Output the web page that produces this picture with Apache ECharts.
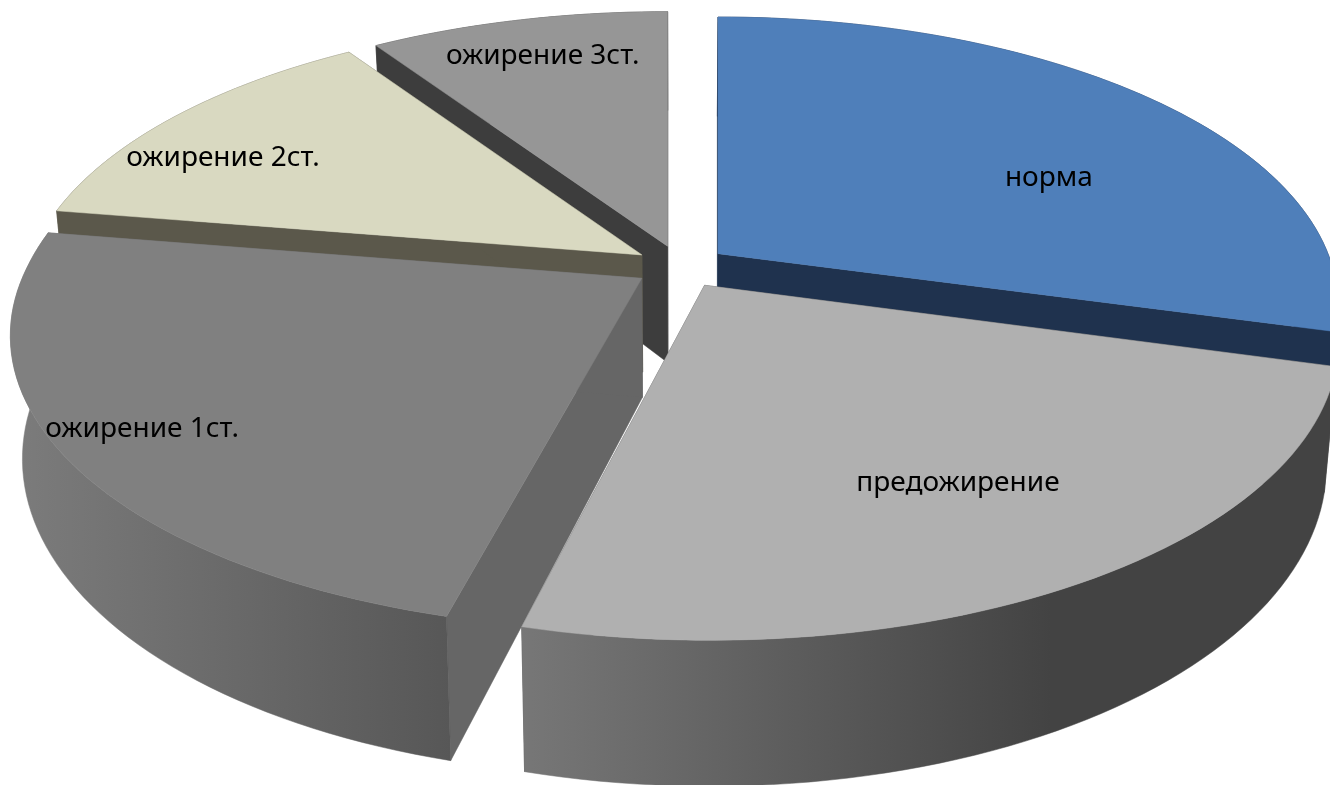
<!DOCTYPE html>
<html><head><meta charset="utf-8">
<style>html,body{margin:0;padding:0;background:#fff}#c{width:1330px;height:785px}</style>
<script src="https://cdn.jsdelivr.net/npm/echarts@6/dist/echarts.min.js"></script>
</head><body><div id="c"></div>
<script>
const categories = ['норма','предожирение','ожирение 1ст.','ожирение 2ст.','ожирение 3ст.'];
const values = [29.3, 24.7, 23.6, 13.1, 9.3];
const topColors = ['#4f7fba','#b0b0b0','#808080','#d9d9c1','#969696'];
const cutColors = ['#1f324e','#4a4a4a','#666666','#5b584b','#3d3d3d'];
const wallStart = ['#1f324e','#777777','#7c7c7c','#5b584b','#3d3d3d'];
const wallEnd   = ['#1f324e','#434343','#575757','#5b584b','#3d3d3d'];
const drawOrder = [4,0,3,2,1];
const labelRadius = [0.638,0.704,0.873,0.82,0.8185];
const labelAngleShift = [10.6,-0.5,0,-6.1,0.1];

const view = {cx:681, cy:266.5, R:615, Ra:283.5, p:0.18, depth:118, taper:0.018, explode:0.0756, fontSize:28};
const total = values.reduce((a,b)=>a+b,0);
const rad = d => d*Math.PI/180;
function pt(angle,r,mid,Z){
  const a=rad(angle), m=rad(mid);
  const Y = -view.explode*Math.cos(m)-r*Math.cos(a);
  const s = 1/(1-view.p*Y);
  const ex = view.explode*Math.sin(m), X = r*Math.sin(a);
  return [view.cx + (ex*Math.max(s,1) + X*s)*view.R*(1-view.taper*Z), view.cy + Y*view.Ra*s + Z*view.depth*s];
}
const arcPts=(a0,a1,mid,Z)=>{const out=[];const n=Math.max(2,Math.ceil(Math.abs(a1-a0)/1.5));
  for(let i=0;i<=n;i++)out.push(pt(a0+(a1-a0)*i/n,1,mid,Z));return out;};
let acc=0;
const spans=values.map(v=>{const a0=acc/total*360;acc+=v;return [a0,acc/total*360];});

function renderItem(params,api){
  const i=params.dataIndex;
  const [a0,a1]=spans[i]; const mid=(a0+a1)/2;
  const order=drawOrder.indexOf(i);
  const apexT=pt(0,0,mid,0), apexB=pt(0,0,mid,1);
  const poly=(points,fill,z)=>({type:'polygon',z2:order*10+z,shape:{points},
    style:{fill,stroke:fill,lineWidth:0.5},silent:true});
  const topArc=arcPts(a0,a1,mid,0), botArc=arcPts(a0,a1,mid,1);
  const wallFill={type:'linear',x:0,y:0,x2:1,y2:0,colorStops:[{offset:0,color:wallStart[i]},{offset:i===1?0.65:1,color:wallEnd[i]},{offset:1,color:wallEnd[i]}]};
  const lp=pt(mid+labelAngleShift[i],labelRadius[i],mid,0);
  return {type:'group',children:[
    poly([apexT,pt(a0,1,mid,0),pt(a0,1,mid,1),apexB],cutColors[i],0),
    poly([apexT,pt(a1,1,mid,0),pt(a1,1,mid,1),apexB],cutColors[i],0),
    poly(topArc.concat(botArc.slice().reverse()),wallFill,1),
    poly([apexT].concat(topArc),topColors[i],2),
    {type:'text',z2:1000,silent:true,x:lp[0],y:lp[1],style:{text:categories[i],
      font:view.fontSize+'px "Noto Sans","Open Sans",sans-serif',fill:'#000',align:'center',verticalAlign:'middle'}}
  ]};
}
const chart=echarts.init(document.getElementById('c'),null,{renderer:'canvas'});
chart.setOption({animation:false,backgroundColor:'#fff',
  series:[{type:'custom',coordinateSystem:'none',renderItem,clip:false,
    data:values.map((v,i)=>({name:categories[i],value:[v]}))}]});
</script></body></html>
